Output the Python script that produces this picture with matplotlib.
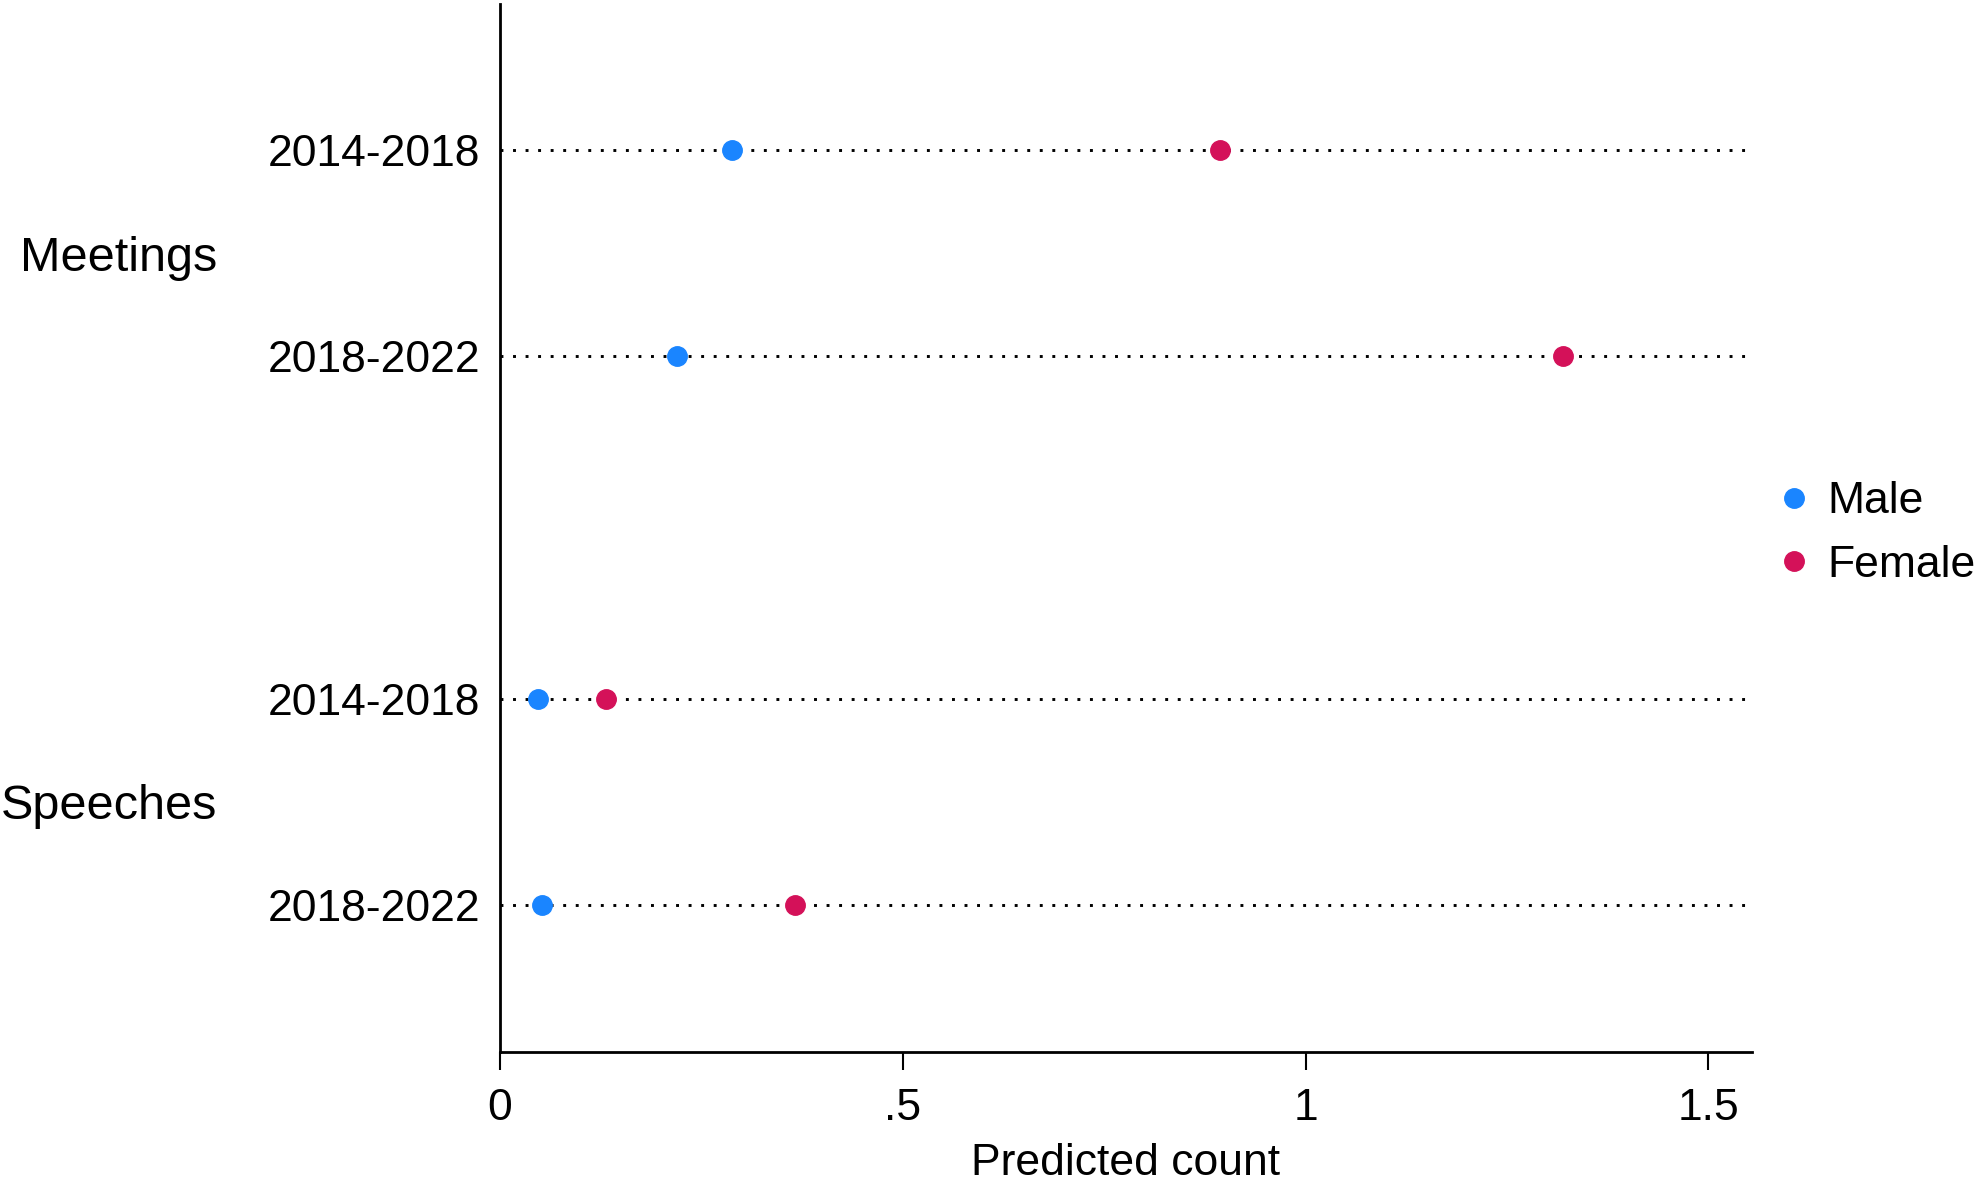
import matplotlib
matplotlib.use("Agg")
import matplotlib.pyplot as plt
import matplotlib.transforms as mtransforms

plt.rcParams['font.family'] = ['Liberation Sans', 'DejaVu Sans']

groups = ["Meetings", "Speeches"]
periods = ["2014-2018", "2018-2022"]
male = [[0.288, 0.220], [0.047, 0.052]]
female = [[0.894, 1.320], [0.131, 0.366]]
xticks = [0, 0.5, 1, 1.5]
xticklabels = ["0", ".5", "1", "1.5"]
xlabel = "Predicted count"
series_labels = ["Male", "Female"]
colors = ["#1A85FF", "#D41159"]

W, H, DPI = 1982, 1183, 100
fig = plt.figure(figsize=(W / DPI, H / DPI), dpi=DPI)
ax = fig.add_axes([500 / W, 1 - 1052 / H, (1752 - 500) / W, (1052 - 4) / H])

FS = 32
gap = 1.665
ypos, ylabels, gcenters = [], [], []
for gi, g in enumerate(groups):
    base = gi * (1 + gap)
    ys = [base + k for k in range(len(periods))]
    ypos.append(ys)
    ylabels += periods
    gcenters.append(sum(ys) / len(ys))

flat_y = [y for ys in ypos for y in ys]
for y in flat_y:
    ax.plot([0, 1], [y, y], transform=mtransforms.blended_transform_factory(ax.transAxes, ax.transData),
            color="black", lw=2.1, linestyle=(0, (1, 3.3)), zorder=1, dash_capstyle='butt')

for gi in range(len(groups)):
    ax.plot(male[gi], ypos[gi], 'o', color=colors[0], ms=14, ls='none', zorder=3,
            label=series_labels[0] if gi == 0 else None)
    ax.plot(female[gi], ypos[gi], 'o', color=colors[1], ms=14, ls='none', zorder=3,
            label=series_labels[1] if gi == 0 else None)

ax.set_xlim(0, 1.554)
ax.set_ylim(flat_y[-1] + 0.714, flat_y[0] - 0.709)
ax.set_yticks(flat_y)
ax.set_yticklabels(ylabels, fontsize=FS)
ax.tick_params(axis='y', length=0, pad=14)
ax.set_xticks(xticks)
ax.set_xticklabels(xticklabels, fontsize=FS)
ax.tick_params(axis='x', length=13, width=1.5, pad=13)
ax.set_xlabel(xlabel, fontsize=FS, labelpad=10)

for s in ['top', 'right']:
    ax.spines[s].set_visible(False)
for s in ['left', 'bottom']:
    ax.spines[s].set_linewidth(2)

trans = mtransforms.blended_transform_factory(fig.transFigure, ax.transData)
for g, c in zip(groups, gcenters):
    ax.text(217 / W, c, g, transform=trans, ha='right', va='center_baseline', fontsize=35)

fig.legend(loc='center left', bbox_to_anchor=(1761 / W, 1 - 533.5 / H), frameon=False,
           fontsize=FS, handlelength=0.5, handletextpad=0.5, borderpad=0, labelspacing=0.51,
           markerscale=1.0)

fig.savefig("out.png", dpi=DPI)
